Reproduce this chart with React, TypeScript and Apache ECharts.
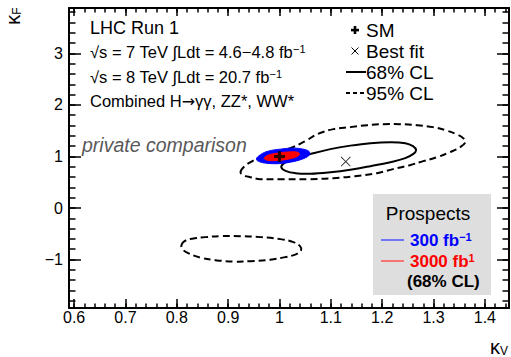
import React, { useEffect, useRef } from "react";
import * as echarts from "echarts";

// ---- axes ----
const xRange = [0.59, 1.447];
const yRange = [-1.94, 3.88];
const xTicks = [0.6, 0.7, 0.8, 0.9, 1.0, 1.1, 1.2, 1.3, 1.4];
const yTicks = [-1, 0, 1, 2, 3];
const xMinorStep = 0.02;
const yMinorStep = 0.2;

// ---- points ----
const smPoint = [[1.0, 1.0]];
const bestFitPoint = [[1.129, 0.9]];

// ---- contours (kappa_V, kappa_F) ----
const cl95Main = [
  [0.924, 0.695], [0.932, 0.812], [0.947, 0.909], [0.967, 1.006], [0.992, 1.083],
  [1.021, 1.161], [1.05, 1.297], [1.074, 1.433], [1.105, 1.53], [1.138, 1.569],
  [1.171, 1.607], [1.202, 1.627], [1.235, 1.627], [1.268, 1.607], [1.299, 1.569],
  [1.323, 1.51], [1.344, 1.433], [1.358, 1.355], [1.362, 1.277], [1.352, 1.181],
  [1.332, 1.083], [1.307, 0.986], [1.28, 0.909], [1.254, 0.831], [1.221, 0.754],
  [1.19, 0.676], [1.147, 0.618], [1.105, 0.579], [1.06, 0.56], [1.007, 0.56],
  [0.963, 0.56], [0.943, 0.598], [0.93, 0.637],
];
const cl95Lower = [
  [0.809, -0.721], [0.815, -0.643], [0.83, -0.595], [0.856, -0.565], [0.885, -0.546],
  [0.924, -0.546], [0.963, -0.565], [1.002, -0.604], [1.027, -0.662], [1.04, -0.74],
  [1.042, -0.818], [1.033, -0.895], [1.011, -0.953], [0.982, -1.002], [0.943, -1.031],
  [0.914, -1.041], [0.875, -1.012], [0.846, -0.963], [0.822, -0.876], [0.811, -0.798],
];
const cl68 = [
  [1.0035, 0.792], [1.009, 0.87], [1.021, 0.928], [1.04, 0.986], [1.06, 1.045],
  [1.099, 1.142], [1.138, 1.21], [1.177, 1.258], [1.216, 1.277], [1.245, 1.258],
  [1.26, 1.2], [1.266, 1.122], [1.26, 1.045], [1.245, 0.967], [1.216, 0.889],
  [1.177, 0.812], [1.138, 0.744], [1.099, 0.695], [1.06, 0.666], [1.031, 0.676],
  [1.013, 0.715],
];
const prospect300 = [
  [0.955, 0.948], [0.963, 1.035], [0.978, 1.103], [1.002, 1.142], [1.027, 1.161],
  [1.046, 1.142], [1.058, 1.093], [1.058, 1.025], [1.044, 0.948], [1.021, 0.889],
  [0.998, 0.86], [0.974, 0.87], [0.961, 0.899],
];
const prospect3000 = [
  [0.97, 0.967], [0.978, 1.025], [0.996, 1.064], [1.017, 1.087], [1.035, 1.083],
  [1.039, 1.045], [1.031, 0.986], [1.011, 0.938], [0.99, 0.919], [0.976, 0.928],
];

const FONT = "'Liberation Sans', Arial, Helvetica, sans-serif";

function minorValues(range: number[], step: number) {
  const out: number[] = [];
  const start = Math.ceil(range[0] / step - 1e-9);
  const end = Math.floor(range[1] / step + 1e-9);
  for (let i = start; i <= end; i++) out.push(Math.round(i * step * 1000) / 1000);
  return out;
}

function fmt(v: number) {
  const s = String(Math.round(v * 1000) / 1000);
  return s.replace("-", "\u2212");
}

function polySeries(name: string, pts: number[][], style: any, z: number) {
  return {
    type: "custom",
    name,
    coordinateSystem: "cartesian2d",
    xAxisIndex: 0,
    yAxisIndex: 0,
    z,
    silent: true,
    data: [pts[0]],
    renderItem: (_params: any, api: any) => ({
      type: "polygon",
      shape: { points: pts.map((p) => api.coord(p)), smooth: 0.4 },
      style,
    }),
  };
}

function xAxisDef(position: string, ticks: number[], len: number, main: boolean, labels: boolean) {
  return {
    type: "value",
    min: xRange[0],
    max: xRange[1],
    position,
    axisLine: { show: main, onZero: false, lineStyle: { color: "#000", width: 2 } },
    axisTick: { show: true, inside: true, length: len, customValues: ticks, lineStyle: { color: "#000", width: 1.5 } },
    axisLabel: {
      show: labels,
      customValues: ticks,
      formatter: fmt,
      color: "#000",
      fontSize: 16,
      fontFamily: FONT,
      margin: 1,
    },
    splitLine: { show: false },
  };
}

function yAxisDef(position: string, ticks: number[], len: number, main: boolean, labels: boolean) {
  return {
    type: "value",
    min: yRange[0],
    max: yRange[1],
    position,
    axisLine: { show: main, onZero: false, lineStyle: { color: "#000", width: 2 } },
    axisTick: { show: true, inside: true, length: len, customValues: ticks, lineStyle: { color: "#000", width: 1.5 } },
    axisLabel: {
      show: labels,
      customValues: ticks,
      formatter: fmt,
      color: "#000",
      fontSize: 16,
      fontFamily: FONT,
      margin: 6,
    },
    splitLine: { show: false },
  };
}

function text(x: number, y: number, t: string, extra: any = {}) {
  return {
    type: "text",
    x,
    y,
    silent: true,
    z: 100,
    style: {
      text: t,
      fill: "#000",
      fontSize: 16.5,
      fontFamily: FONT,
      textAlign: "left",
      textVerticalAlign: "middle",
      ...extra,
    },
  };
}

export default function App() {
  const ref = useRef<HTMLDivElement>(null);
  useEffect(() => {
    if (!ref.current) return;
    const chart = echarts.init(ref.current, undefined, { renderer: "svg" });
    const xMinor = minorValues(xRange, xMinorStep);
    const yMinor = minorValues(yRange, yMinorStep);
    const sup = { fontSize: 11, fontFamily: FONT, verticalAlign: "top" };
    const arrow = { fontSize: 16, fontFamily: "'DejaVu Sans', sans-serif" };
    const option: any = {
      animation: false,
      backgroundColor: "#fff",
      grid: { left: 69, top: 8, width: 440, height: 300, containLabel: false },
      xAxis: [
        xAxisDef("bottom", xTicks, 9, true, true),
        xAxisDef("bottom", xMinor, 4.5, false, false),
        xAxisDef("top", xTicks, 8, true, false),
        xAxisDef("top", xMinor, 4.5, false, false),
      ],
      yAxis: [
        yAxisDef("left", yTicks, 12, true, true),
        yAxisDef("left", yMinor, 6.5, false, false),
        yAxisDef("right", yTicks, 12, true, false),
        yAxisDef("right", yMinor, 6.5, false, false),
      ],
      series: [
        polySeries("95% CL", cl95Main, { fill: "none", stroke: "#000", lineWidth: 2, lineDash: [7, 4] }, 2),
        polySeries("95% CL lower", cl95Lower, { fill: "none", stroke: "#000", lineWidth: 2, lineDash: [7, 4] }, 2),
        polySeries("68% CL", cl68, { fill: "none", stroke: "#000", lineWidth: 2 }, 2),
        polySeries("300 fb-1", prospect300, { fill: "#0000ff", stroke: "#0000ff", lineWidth: 1 }, 3),
        polySeries("3000 fb-1", prospect3000, { fill: "#ff0000", stroke: "#ff0000", lineWidth: 1 }, 4),
        {
          type: "scatter",
          name: "Best fit",
          data: bestFitPoint,
          symbol: "path://M0,0.7L0.7,0L5,4.3L9.3,0L10,0.7L5.7,5L10,9.3L9.3,10L5,5.7L0.7,10L0,9.3L4.3,5Z",
          symbolSize: 10,
          itemStyle: { color: "#000" },
          z: 5,
          silent: true,
        },
        {
          type: "scatter",
          name: "SM",
          data: smPoint,
          symbol: "path://M3.6,0H6.4V3.6H10V6.4H6.4V10H3.6V6.4H0V3.6H3.6Z",
          symbolSize: 11,
          itemStyle: { color: "#000" },
          z: 6,
          silent: true,
        },
      ],
      graphic: [
        // axis titles
        {
          type: "text",
          x: 13,
          y: 16,
          rotation: Math.PI / 2,
          silent: true,
          style: {
            text: "κ{s|F}",
            fontSize: 20,
            fontFamily: FONT,
            fill: "#000",
            textAlign: "center",
            textVerticalAlign: "middle",
            rich: {
              s: { fontSize: 12, fontFamily: FONT, fill: "#000", verticalAlign: "bottom" },
            },
          },
        },
        {
          type: "text",
          x: 499,
          y: 347,
          silent: true,
          style: {
            text: "κ{s|V}",
            fontSize: 20,
            fontFamily: FONT,
            fill: "#000",
            textAlign: "center",
            textVerticalAlign: "middle",
            rich: {
              s: { fontSize: 12, fontFamily: FONT, fill: "#000", verticalAlign: "bottom" },
            },
          },
        },
        // info text
        text(90, 28, "LHC Run 1", { fontSize: 18 }),
        text(90, 52, "√s = 7 TeV ∫Ldt = 4.6−4.8 fb{sup|−1}", { rich: { sup } }),
        text(90, 77, "√s = 8 TeV ∫Ldt = 20.7 fb{sup|−1}", { rich: { sup } }),
        text(90, 101, "Combined H{a|→}γγ, ZZ*, WW*", { rich: { a: arrow } }),
        text(82, 145, "private comparison", { fontSize: 19.5, fontStyle: "italic", fill: "#595959" }),
        // legend
        { type: "rect", silent: true, z: 100, shape: { x: 351, y: 28.8, width: 8, height: 2.6 }, style: { fill: "#000" } },
        { type: "rect", silent: true, z: 100, shape: { x: 353.7, y: 26, width: 2.6, height: 8 }, style: { fill: "#000" } },
        { type: "line", silent: true, z: 100, shape: { x1: 351.5, y1: 47.5, x2: 358.5, y2: 54.5 }, style: { stroke: "#000", lineWidth: 1 } },
        { type: "line", silent: true, z: 100, shape: { x1: 351.5, y1: 54.5, x2: 358.5, y2: 47.5 }, style: { stroke: "#000", lineWidth: 1 } },
        { type: "line", silent: true, z: 100, shape: { x1: 346, y1: 72, x2: 366, y2: 72 }, style: { stroke: "#000", lineWidth: 2 } },
        { type: "line", silent: true, z: 100, shape: { x1: 346, y1: 93, x2: 366, y2: 93 }, style: { stroke: "#000", lineWidth: 2, lineDash: [4, 3] } },
        text(366, 30, "SM", { fontSize: 19 }),
        text(366, 51, "Best fit", { fontSize: 19 }),
        text(366, 72, "68% CL", { fontSize: 19 }),
        text(366, 93, "95% CL", { fontSize: 19 }),
        // prospects box
        { type: "rect", silent: true, z: 90, shape: { x: 373, y: 194, width: 118, height: 101 }, style: { fill: "#dedede" } },
        text(428, 213, "Prospects", { fontSize: 19, textAlign: "center" }),
        { type: "line", silent: true, z: 100, shape: { x1: 381, y1: 240, x2: 404, y2: 240 }, style: { stroke: "#5050ff", lineWidth: 1.5 } },
        text(410, 240, "300 fb{sup|−1}", { fontSize: 17, fontWeight: "bold", fill: "#0000ff", rich: { sup: { ...sup, fontWeight: "bold", fill: "#0000ff" } } }),
        { type: "line", silent: true, z: 100, shape: { x1: 381, y1: 261, x2: 404, y2: 261 }, style: { stroke: "#ff5050", lineWidth: 1.5 } },
        text(410, 261, "3000 fb{sup|1}", { fontSize: 17, fontWeight: "bold", fill: "#ff0000", rich: { sup: { ...sup, fontWeight: "bold", fill: "#ff0000" } } }),
        text(407, 281, "(68% CL)", { fontSize: 17, fontWeight: "bold" }),
      ],
    };
    chart.setOption(option);
    return () => chart.dispose();
  }, []);
  return (
    <div
      ref={ref}
      style={{ position: "fixed", left: 0, top: 0, width: 511, height: 357, background: "#fff" }}
    />
  );
}
